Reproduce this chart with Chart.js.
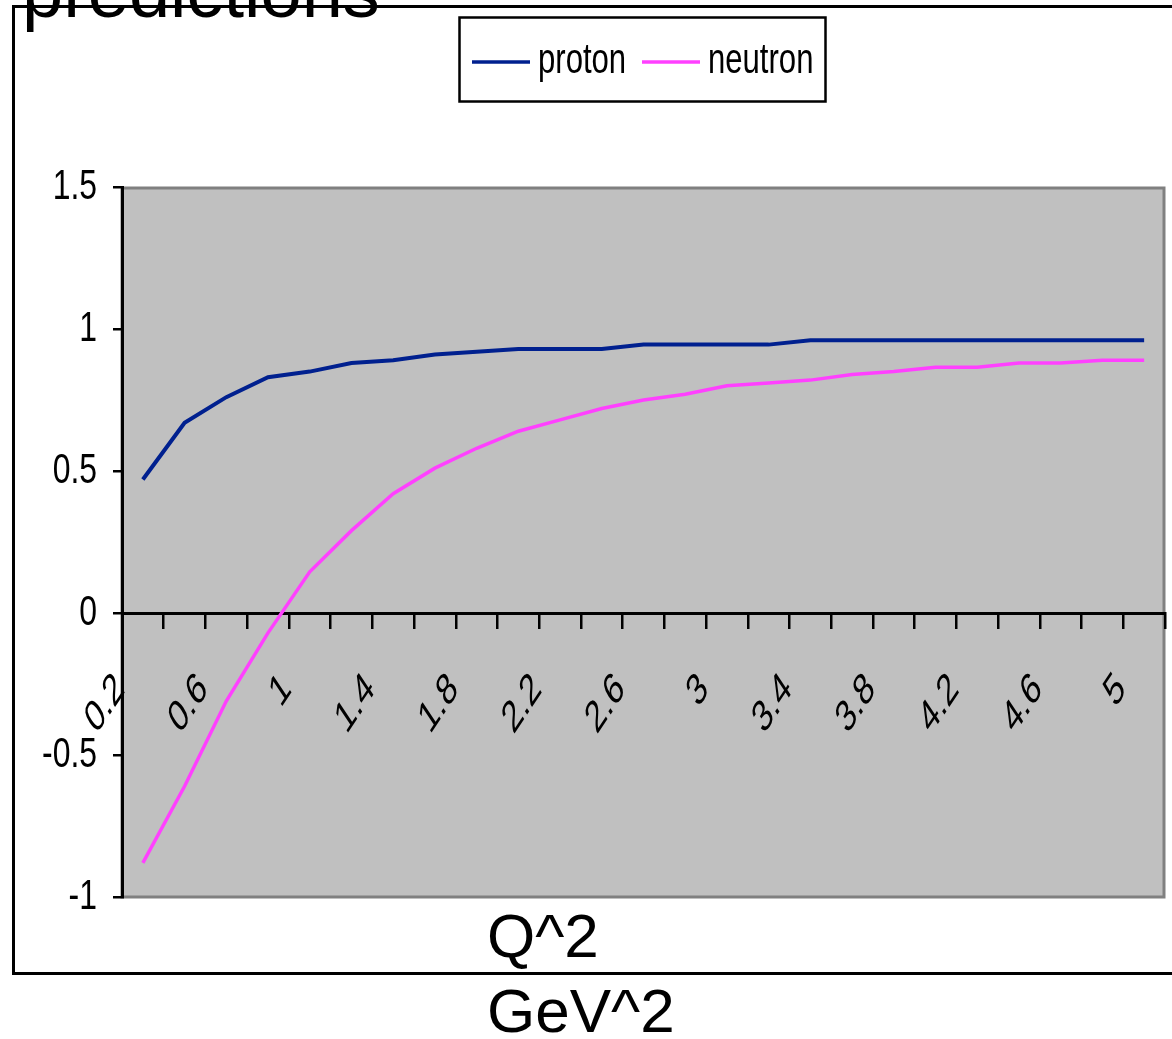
<!DOCTYPE html>
<html>
<head>
<meta charset="utf-8">
<title>predictions</title>
<script src="https://cdn.jsdelivr.net/npm/chart.js@4.4.1/dist/chart.umd.min.js"></script>
<style>
  html, body { margin: 0; padding: 0; background: #ffffff; overflow: hidden; }
  #wrap { width: 1172px; height: 1039px; position: relative; }
  canvas { display: block; }
</style>
</head>
<body>
<div id="wrap"><canvas id="chart" width="1172" height="1039"></canvas></div>
<script>
// Q^2 values (GeV^2) along the category axis
const categories = [0.2, 0.4, 0.6, 0.8, 1.0, 1.2, 1.4, 1.6, 1.8, 2.0, 2.2, 2.4, 2.6,
                    2.8, 3.0, 3.2, 3.4, 3.6, 3.8, 4.0, 4.2, 4.4, 4.6, 4.8, 5.0];

// predicted ratio for each nucleon
const proton  = [0.47, 0.67, 0.76, 0.83, 0.85, 0.88, 0.89, 0.91, 0.92, 0.93, 0.93, 0.93, 0.945,
                 0.945, 0.945, 0.945, 0.96, 0.96, 0.96, 0.96, 0.96, 0.96, 0.96, 0.96, 0.96];
const neutron = [-0.88, -0.61, -0.31, -0.07, 0.145, 0.29, 0.42, 0.51, 0.58, 0.64, 0.68, 0.72, 0.75,
                 0.77, 0.80, 0.81, 0.82, 0.84, 0.85, 0.865, 0.865, 0.88, 0.88, 0.89, 0.89];

const yTicks = [-1, -0.5, 0, 0.5, 1, 1.5];
const seriesNames = ['proton', 'neutron'];
const chartTitle = 'predictions';
const xTitleLines = ['Q^2', 'GeV^2'];

const SANS = "'Liberation Sans', Arial, sans-serif";

const X_TICK_LEN = 14, X_TICK_PAD = 36;
const Y_TICK_LEN = 9, Y_TICK_PAD = 16;

// grey plot area with its darker outline
const plotBackground = {
  id: 'plotBackground',
  beforeDraw(chart) {
    const { ctx, chartArea: a } = chart;
    ctx.save();
    ctx.fillStyle = '#C0C0C0';
    ctx.fillRect(a.left, a.top, a.right - a.left, a.bottom - a.top);
    ctx.strokeStyle = '#808080';
    ctx.lineWidth = 3;
    ctx.strokeRect(a.left, a.top + 1, a.right - a.left - 1, a.bottom - a.top - 1);
    ctx.restore();
  }
};

// tall, condensed tick lettering: y labels squeezed about their right edge,
// x labels stretched downward from their anchor line
const tallTickText = {
  id: 'tallTickText',
  afterLayout(chart) {
    const xs = chart.scales.x, ys = chart.scales.y;
    if (!ys._tallWrapped) {
      const draw = ys.drawLabels.bind(ys);
      ys.drawLabels = function (area) {
        const c = this.ctx, xr = this.right - Y_TICK_LEN - Y_TICK_PAD;
        c.save();
        c.translate(xr, 0); c.scale(0.76, 1); c.translate(-xr, 0);
        draw(area);
        c.restore();
      };
      ys._tallWrapped = true;
    }
    if (!xs._tallWrapped) {
      const draw = xs.drawLabels.bind(xs);
      xs.drawLabels = function (area) {
        const c = this.ctx;
        const ya = chart.scales.y.getPixelForValue(0) + X_TICK_LEN + X_TICK_PAD;
        c.save();
        c.translate(0, ya); c.scale(1, 1.5); c.translate(0, -ya);
        draw(area);
        c.restore();
      };
      xs._tallWrapped = true;
    }
  }
};

// outer frame, title, boxed legend and the axis caption
const decorations = {
  id: 'decorations',
  afterDraw(chart) {
    const { ctx } = chart;
    ctx.save();
    ctx.strokeStyle = '#000';
    ctx.lineWidth = 3;
    ctx.strokeRect(13.5, 6.5, 1200, 967);

    ctx.fillStyle = '#000';
    ctx.textAlign = 'left';
    ctx.textBaseline = 'alphabetic';
    ctx.font = '74px ' + SANS;
    ctx.fillText(chartTitle, 22, 17);

    // legend
    ctx.fillStyle = '#fff';
    ctx.fillRect(459, 17, 367, 85);
    ctx.strokeStyle = '#000';
    ctx.lineWidth = 2.5;
    ctx.strokeRect(459.5, 17.5, 366, 84);
    const slots = [{ x0: 472, x1: 530, tx: 538 }, { x0: 642, x1: 700, tx: 708 }];
    chart.data.datasets.forEach((ds, i) => {
      const s = slots[i];
      ctx.strokeStyle = ds.borderColor;
      ctx.lineWidth = 3.5;
      ctx.beginPath();
      ctx.moveTo(s.x0, 62);
      ctx.lineTo(s.x1, 62);
      ctx.stroke();
      ctx.save();
      ctx.fillStyle = '#000';
      ctx.font = '42px ' + SANS;
      ctx.translate(s.tx, 73);
      ctx.scale(0.74, 1);
      ctx.fillText(ds.label, 0, 0);
      ctx.restore();
    });

    // x-axis caption
    ctx.fillStyle = '#000';
    ctx.font = '62px ' + SANS;
    ctx.fillText(xTitleLines[0], 487, 957);
    ctx.fillText(xTitleLines[1], 487, 1032);
    ctx.restore();
  }
};

new Chart(document.getElementById('chart'), {
  type: 'line',
  data: {
    labels: categories.map(String),
    datasets: [
      { label: seriesNames[0], data: proton, borderColor: '#00208F', borderWidth: 4,
        pointRadius: 0, tension: 0, fill: false },
      { label: seriesNames[1], data: neutron, borderColor: '#FF40FF', borderWidth: 3.5,
        pointRadius: 0, tension: 0, fill: false }
    ]
  },
  options: {
    responsive: false,
    animation: false,
    devicePixelRatio: 1,
    layout: { padding: { left: 0, top: 187, right: 7, bottom: 142 } },
    plugins: { legend: { display: false }, title: { display: false }, tooltip: { enabled: false } },
    scales: {
      x: {
        type: 'category',
        position: { y: 0 },
        offset: true,
        grid: { offset: true, drawOnChartArea: false, drawTicks: true, tickLength: X_TICK_LEN,
                color: '#000', lineWidth: 2.5 },
        border: { display: true, color: '#000', width: 3 },
        ticks: {
          autoSkip: false, minRotation: 45, maxRotation: 45, padding: X_TICK_PAD, labelOffset: -23,
          color: '#000', font: { family: SANS, size: 30 },
          callback: (v, i) => (i % 2 === 0 ? String(categories[i]) : '')
        },
        afterFit: s => { s.paddingLeft = 0; s.paddingRight = 0; }
      },
      y: {
        min: -1, max: 1.5,
        afterBuildTicks: s => { s.ticks = yTicks.map(v => ({ value: v })); },
        afterFit: s => { s.width = 122; },
        grid: { drawOnChartArea: false, drawTicks: true, tickLength: Y_TICK_LEN, color: '#000', lineWidth: 2.5 },
        border: { display: true, color: '#000', width: 3 },
        ticks: { padding: Y_TICK_PAD, color: '#000', font: { family: SANS, size: 42 },
                 callback: v => String(v) }
      }
    }
  },
  plugins: [plotBackground, tallTickText, decorations]
});
</script>
</body>
</html>
